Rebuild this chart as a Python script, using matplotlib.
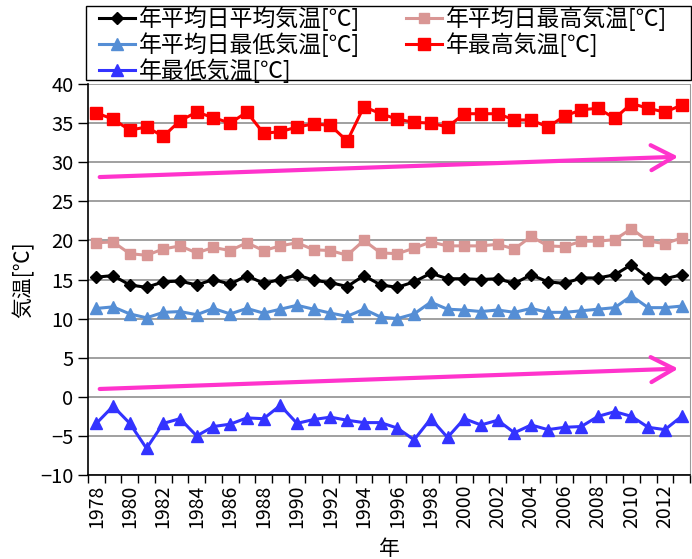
import matplotlib
matplotlib.use('Agg')
import matplotlib.pyplot as plt
from matplotlib.patches import Rectangle
import numpy as np

plt.rcParams['font.family'] = ['Noto Sans CJK JP', 'DejaVu Sans']

# ---- data ---- #
years = list(range(1978, 2014))

mean_temp = [15.3, 15.5, 14.3, 14.0, 14.7, 14.8, 14.3, 15.0, 14.4, 15.5,
             14.5, 15.0, 15.6, 14.9, 14.6, 14.1, 15.5, 14.3, 14.0, 14.7,
             15.8, 15.1, 15.1, 15.0, 15.1, 14.5, 15.6, 14.7, 14.5, 15.2,
             15.2, 15.6, 16.9, 15.2, 15.1, 15.6]
mean_max = [19.7, 19.8, 18.3, 18.1, 18.9, 19.3, 18.4, 19.1, 18.7, 19.7,
            18.7, 19.3, 19.7, 18.8, 18.7, 18.1, 20.0, 18.4, 18.3, 19.0,
            19.8, 19.3, 19.3, 19.3, 19.5, 18.9, 20.5, 19.3, 19.2, 19.9,
            19.9, 20.1, 21.5, 19.9, 19.6, 20.3]
mean_min = [11.3, 11.5, 10.6, 10.1, 10.8, 10.9, 10.5, 11.3, 10.6, 11.3,
            10.7, 11.2, 11.7, 11.2, 10.7, 10.3, 11.2, 10.2, 10.0, 10.6,
            12.1, 11.2, 11.1, 10.9, 11.1, 10.8, 11.3, 10.8, 10.8, 11.0,
            11.2, 11.4, 12.9, 11.4, 11.4, 11.6]
year_max = [36.3, 35.5, 34.1, 34.5, 33.3, 35.3, 36.4, 35.7, 35.0, 36.4,
            33.7, 33.9, 34.5, 34.9, 34.7, 32.7, 37.1, 36.2, 35.5, 35.1,
            35.0, 34.5, 36.2, 36.2, 36.2, 35.4, 35.4, 34.5, 35.9, 36.7,
            36.9, 35.6, 37.5, 36.9, 36.4, 37.3]
year_min = [-3.4, -1.2, -3.4, -6.6, -3.4, -2.8, -5.0, -3.8, -3.5, -2.7,
            -2.8, -1.1, -3.4, -2.9, -2.6, -3.0, -3.3, -3.3, -4.0, -5.5,
            -2.8, -5.2, -2.8, -3.6, -3.0, -4.6, -3.6, -4.2, -3.9, -3.8,
            -2.5, -1.9, -2.5, -3.9, -4.2, -2.5]

# trend arrows: (start index, start value, end index, end value)
arrow_high = (0.2, 28.1, 34.8, 30.7)
arrow_low = (0.2, 1.0, 34.8, 3.6)

# ---- plot ---- #
fig = plt.figure(figsize=(6.92, 5.59), dpi=100)
ax = fig.add_axes([88/692, 1 - 475/559, 602/692, 391/559])

x = np.arange(len(years))
ms = 7.5
lw = 2.2
h1, = ax.plot(x, mean_temp, color='black', marker='D', ms=ms-1, lw=lw, label='年平均日平均気温[℃]', zorder=5)
h2, = ax.plot(x, mean_max, color='#D99694', marker='s', ms=ms, lw=lw, label='年平均日最高気温[℃]', zorder=4)
h3, = ax.plot(x, mean_min, color='#558ED5', marker='^', ms=ms+0.5, lw=lw, label='年平均日最低気温[℃]', zorder=4)
h4, = ax.plot(x, year_max, color='#FF0000', marker='s', ms=ms+0.5, lw=lw, label='年最高気温[℃]', zorder=4)
h5, = ax.plot(x, year_min, color='#3333FF', marker='^', ms=ms+0.5, lw=lw, label='年最低気温[℃]', zorder=4)

for a in (arrow_high, arrow_low):
    ax.annotate('', xy=(a[2], a[3]), xytext=(a[0], a[1]),
                arrowprops=dict(arrowstyle='->,head_length=1.1,head_width=0.6',
                                color='#FF33CC', lw=3, mutation_scale=15,
                                shrinkA=0, shrinkB=0), zorder=6)

ax.set_xlim(-0.5, len(years) - 0.5)
ax.set_ylim(-10, 40)
ax.set_yticks(np.arange(-10, 41, 5))
ax.set_xticks(x[::2])
ax.set_xticklabels([str(y) for y in years[::2]], rotation=90)
ax.set_xticks(np.arange(-0.5, len(years), 1), minor=True)
ax.tick_params(axis='x', which='major', length=0, labelsize=14, pad=7)
ax.tick_params(axis='x', which='minor', length=6, width=1)
ax.tick_params(axis='y', length=7, width=1, labelsize=14.5)

ax.grid(axis='y', color='#999999', lw=1.3)
ax.set_axisbelow(True)
ax.spines['top'].set_visible(False)
ax.spines['right'].set_color('#999999')
for s in ('left', 'bottom'):
    ax.spines[s].set_linewidth(1.2)

ax.set_ylabel('気温[℃]', fontsize=15, labelpad=4)
fig.text(389/692, 1 - 549/559, '年', fontsize=15, ha='center', va='center')

# legend box above the plot
fig.patches.append(Rectangle((86/692, 1 - 80/559), 605/692, 74/559,
                             transform=fig.transFigure, fill=False,
                             edgecolor='black', lw=1.0))
fig.legend(handles=[h1, h3, h5, h2, h4], loc='upper left', ncol=2,
           bbox_to_anchor=(99/692, 1 - 6.5/559),
           fontsize=16.5, frameon=False, borderaxespad=0, borderpad=0,
           handlelength=1.55, handletextpad=0.2, labelspacing=0.05,
           columnspacing=2.0)

fig.savefig('out.png', dpi=100)
